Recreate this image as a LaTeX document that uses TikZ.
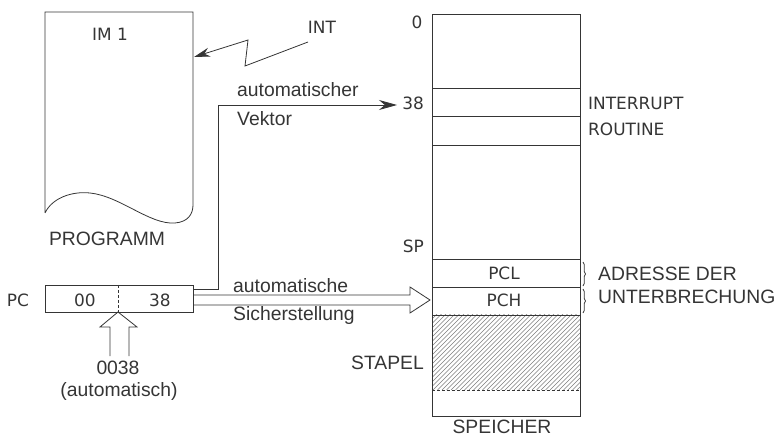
\documentclass[tikz,border=0pt]{standalone}
\usepackage{fontspec}
\setmainfont{DejaVu Sans}
\newfontfamily\hvfont{Liberation Sans}
\usetikzlibrary{arrows.meta,decorations.pathreplacing}
\definecolor{ink}{HTML}{353535}
\tikzset{
  lbl/.style={inner sep=0pt,text=ink,font=\fontsize{17}{20}\selectfont},
  hlbl/.style={inner sep=0pt,text=ink,font=\hvfont\fontsize{19.4}{22}\selectfont},
  ln/.style={draw=ink,line width=0.8bp},
  hln/.style={draw=ink!65,line width=0.45bp},
}
\begin{document}
\begin{tikzpicture}[x=1bp,y=-1bp]
\useasboundingbox (0,0) rectangle (780,438);
% program document
\draw[ln] (45,213) -- (45,12) -- (193,12) -- (193,205)
  .. controls (193,214) and (188,222) .. (175,223)
  .. controls (150,225) and (120,196) .. (90,193)
  .. controls (72,191) and (52,198) .. (45,213);
\node[lbl] (im) at (110,34) {IM 1};
\node[hlbl] (prog) at (107,239) {PROGRAMM};
% INT lightning
\node[lbl] (int) at (322,27) {INT};
\coordinate (z1) at (308,42);
\coordinate (z2) at (245,66);
\coordinate (z3) at (248,40);
\coordinate (z4) at (194,57);
\draw[ln,-{Stealth[length=16bp,width=9bp]}] (z1) -- (z2) -- (z3) -- (z4);
% memory
\coordinate (mtl) at (432,14);
\coordinate (mbr) at (580,416);
\begin{scope}
\clip (432,315) rectangle (580,390);
\foreach \i in {0,4.5,...,240}{
  \draw[hln] (432-80+\i,390) -- (432+\i,315-5);
}
\end{scope}
\draw[ln] (mtl) rectangle (mbr);
\foreach \yy in {88,116,145,259,287,315}{
  \draw[ln] (432,\yy) -- (580,\yy);
}
\draw[ln,densely dashed] (432,390) -- (580,390);
\node[lbl] (m0) at (417,22) {0};
\node[lbl,anchor=east] (m38) at (424,103) {38};
\node[lbl,anchor=west] (ir1) at (588,103) {INTERRUPT};
\node[lbl,anchor=west] (ir2) at (588,129) {ROUTINE};
\node[lbl,anchor=east] (sp) at (424,246) {SP};
\node[lbl] (pcl) at (504,273) {PCL};
\node[lbl] (pch) at (504,300) {PCH};
\draw[ln,decorate,decoration={brace,amplitude=2.5bp}] (583,262) -- (583,286);
\draw[ln,decorate,decoration={brace,amplitude=2.5bp}] (583,289) -- (583,313);
\node[hlbl,anchor=west] (ad1) at (598,274) {ADRESSE DER};
\node[hlbl,anchor=west] (ad2) at (598,297) {UNTERBRECHUNG};
\node[hlbl,anchor=east] (stapel) at (424,363) {STAPEL};
\node[hlbl] (speicher) at (502,427) {SPEICHER};
% PC register
\node[lbl] (pc) at (18,300) {PC};
\draw[ln] (45,285) rectangle (193,312);
\draw[ln,densely dashed] (118,285) -- (118,312);
\node[lbl] (r00) at (85,300) {00};
\node[lbl] (r38) at (160,300) {38};
% vector line
\coordinate (v0) at (193,289);
\coordinate (v1) at (218,289);
\coordinate (v2) at (218,105);
\coordinate (v3) at (397,105);
\draw[ln,-{Stealth[length=18bp,width=10bp]}] (v0) -- (v1) -- (v2) -- (v3);
\node[hlbl,anchor=west] (av1) at (237,90) {automatischer};
\node[hlbl,anchor=west] (av2) at (237,119) {Vektor};
% hollow save arrow
\draw[ln,line join=miter] (193,295) -- (410,295) -- (410,287) -- (430,300)
  -- (410,313) -- (410,305) -- (193,305);
\node[hlbl,anchor=west] (as1) at (233,286) {automatische};
\node[hlbl,anchor=west] (as2) at (233,316) {Sicherstellung};
% hollow up arrow
\draw[ln,line join=miter] (110,356) -- (110,327) -- (100,327) -- (118,312)
  -- (137,327) -- (129,327) -- (129,356);
\node[hlbl] (a0038) at (118,368) {0038};
\node[hlbl] (aut) at (119,391) {(automatisch)};
\end{tikzpicture}
\end{document}
